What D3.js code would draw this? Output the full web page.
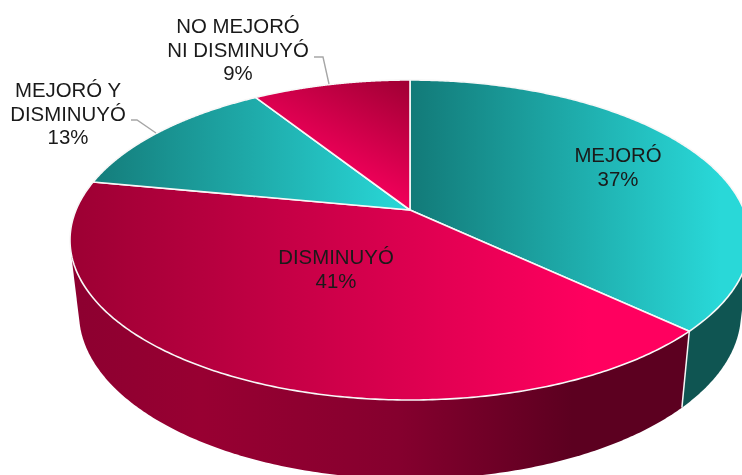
<!DOCTYPE html>
<html><head><meta charset="utf-8">
<script src="https://cdn.jsdelivr.net/npm/d3@7"></script>
<style>html,body{margin:0;background:#fff;overflow:hidden}svg{display:block;filter:blur(0.35px)}text{font-family:"Liberation Sans",Arial,sans-serif;font-size:20.4px;fill:#1a1a1a;text-anchor:middle}</style>
</head><body><svg id="c" width="742" height="475"></svg>
<script>
const categories=["MEJORÓ","DISMINUYÓ","MEJORÓ Y DISMINUYÓ","NO MEJORÓ NI DISMINUYÓ"];
const values=[37,41,13,9];
const labelLines=[["MEJORÓ","37%"],["DISMINUYÓ","41%"],["MEJORÓ Y","DISMINUYÓ","13%"],["NO MEJORÓ","NI DISMINUYÓ","9%"]];
const labelAnchors=[[618,155],[336,257],[68,90],[238,26]];
const leaders=[null,null,[[131,120],[137,120],[156,133]],[[314,57],[323,57],[329,84]]];
const topGrad=[
 {a:[410,0],b:[720,0],stops:[[0,"#127a78"],[1,"#29d8d8"]]},
 {a:[70,0],b:[590,0],stops:[[0,"#9c0033"],[1,"#ff005f"]]},
 {a:[92,0],b:[395,0],stops:[[0,"#147c7a"],[1,"#28d4d4"]]},
 {a:[422,85],b:[360,205],stops:[[0,"#9e0033"],[1,"#ff0060"]]}];
const sideGrad=[
 {a:[680,0],b:[742,0],stops:[[0,"#0f5552"],[1,"#0f5552"]]},
 {a:[70,0],b:[690,0],stops:[[0,"#8c0030"],[0.21,"#980032"],[0.53,"#85002e"],[0.81,"#5c0020"],[1,"#5c0020"]]}];
const TOP={cx:410,cy:240,rx:340,ry:160},BOT={cx:410,cy:313,rx:331,ry:166},C=0.1875;
const svg=d3.select("#c"),defs=svg.append("defs");
function proj(e,a){const s=Math.sin(a),d=-Math.cos(a),k=1-C*d;
  return [e.cx+e.rx*s*Math.sqrt(1-C*C)/k,e.cy+e.ry*(d-C)/k];}
function grad(id,g){const lg=defs.append("linearGradient").attr("id",id).attr("gradientUnits","userSpaceOnUse")
  .attr("x1",g.a[0]).attr("y1",g.a[1]).attr("x2",g.b[0]).attr("y2",g.b[1]);
  g.stops.forEach(s=>lg.append("stop").attr("offset",s[0]).attr("stop-color",s[1]));}
const arcs=d3.pie().sort(null)(values);
const line=d3.line();
const samples=(a0,a1)=>d3.range(0,241).map(i=>a0+(a1-a0)*i/240);
[0,1].forEach(i=>{grad("s"+i,sideGrad[i]);
  const p=arcs[i],as=samples(p.startAngle,p.endAngle);
  const hull=d3.polygonHull(as.map(a=>proj(TOP,a)).concat(as.map(a=>proj(BOT,a))));
  svg.append("path").attr("d",line(hull)+"Z").attr("fill","url(#s"+i+")");
});
const seamA=arcs[0].endAngle;
svg.append("path").attr("d",line([proj(TOP,seamA),proj(BOT,seamA)])).attr("stroke","#f6f6f6").attr("stroke-width",1.5).attr("fill","none");
arcs.forEach((p,i)=>{grad("t"+i,topGrad[i]);
  const pts=[[410,210]].concat(samples(p.startAngle,p.endAngle).map(a=>proj(TOP,a)));
  svg.append("path").attr("d",line(pts)+"Z").attr("fill","url(#t"+i+")").attr("stroke","#f8f8f8").attr("stroke-width",1.6).attr("stroke-linejoin","round");
});
leaders.forEach(l=>{if(l)svg.append("path").attr("d",line(l)).attr("fill","none").attr("stroke","#a6a6a6").attr("stroke-width",1.4);});
labelLines.forEach((ls,i)=>{ls.forEach((t,j)=>{svg.append("text").attr("x",labelAnchors[i][0]).attr("y",labelAnchors[i][1]+j*23.7+6.8).text(t);});});
</script></body></html>
